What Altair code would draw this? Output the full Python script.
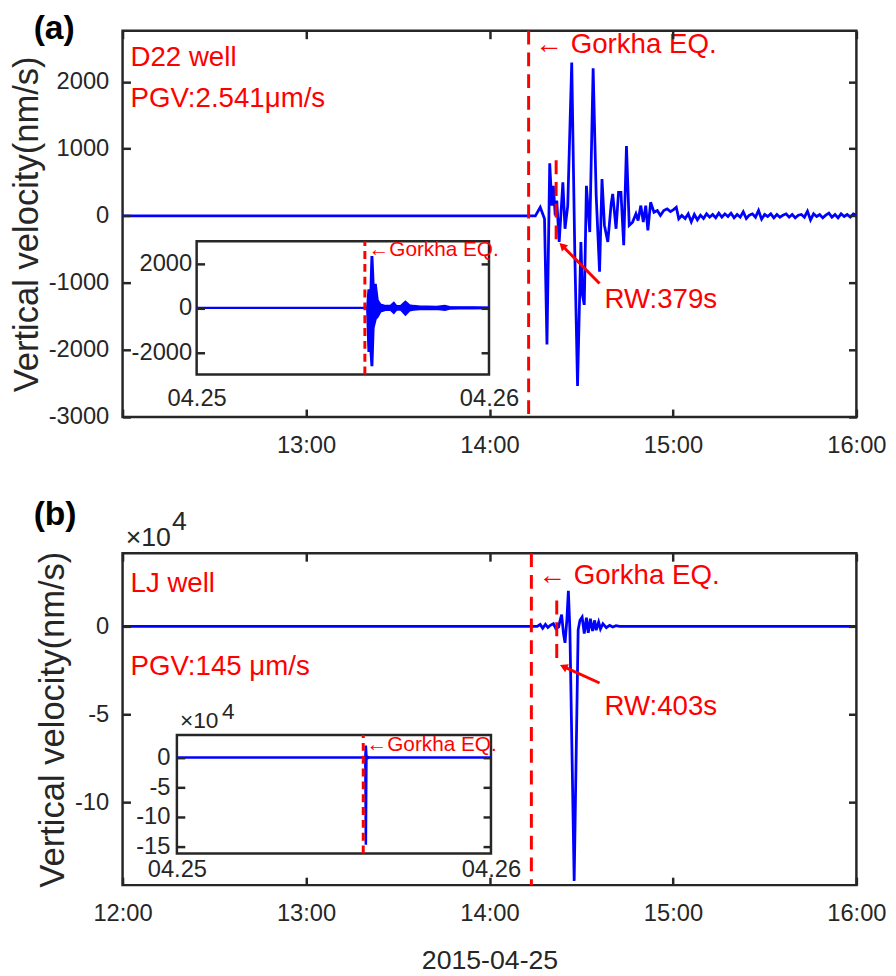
import altair as alt
import pandas as pd

FONT = "Liberation Sans"
BLUE = "#0000ff"
RED = "#ff0000"
DARK = "#262626"

# ---------------- panel (a): D22 well ----------------
# minutes after 2015-04-25 12:00, vertical velocity in nm/s
a_minutes = [0, 132.9, 135.0, 136.6, 138.0, 138.8, 139.7, 140.4, 140.9, 141.5,
             142.0, 142.8, 143.4, 144.0, 144.7, 145.6, 146.9, 147.9, 148.8, 149.9,
             150.4, 151.0, 151.7, 152.8, 153.9, 154.9, 156.0, 156.8, 157.6, 158.7,
             159.8, 160.3, 161.4, 162.2, 163.0, 163.9, 164.8, 165.7, 166.8, 167.9,
             168.6, 169.5, 170.3, 171.1, 171.8, 172.7, 173.8, 174.9, 175.9, 177.0,
             178.1, 179.2, 180.2, 181.1, 181.9, 182.9,
             184, 185, 186, 187, 188, 189, 190, 191, 192, 193, 194, 195, 196, 197,
             198, 199, 200, 201, 202, 203, 204, 205, 206, 207, 208, 209, 210, 211,
             212, 213, 214, 215, 216, 217, 218, 219, 220, 221, 222, 223, 224, 225,
             226, 227, 228, 229, 230, 231, 232, 233, 234, 235, 236, 237, 238, 239, 240]
a_values = [0, 0, 0, 128, -44, -1920, 785, 153, 449, 5,
            227, -390, 54, 499, -193, 153, 2286, -538, -2538, -390,
            -1180, -1328, 449, -242, 2202, 301, -834, 548, -143, -390,
            178, 326, -193, 350, 350, -439, 1042, -143, -94, 30,
            -69, 153, -94, 153, -217, 202, 54, 79, 5, 79,
            104, 64, 94, 128, -44, 5,
            -40, 30, -90, 20, -60, 10, -40, 30, -20, 20, -30, 40, -20, 30,
            -10, 40, -30, 20, -20, 60, -40, 10, 30, -20, 80, -50, 20, -10,
            30, -30, 20, -20, 10, 30, -20, 20, -30, 10, 20, -20, 70, -60,
            30, -10, 20, -30, 10, 40, -20, 20, -30, 30, -10, 20, -20, 30, 10]
a_eq_minute = 132.8
a_rw_minute = 141.8
a_rw_span = [828, -349]
a_arrow_minutes = [156.0, 143.8]
a_arrow_values = [-1010, -445]
a_text_minutes = [2.6, 2.6, 135.0, 157.6]
a_text_values = [2353, 1735, 2544, -1250]
a_texts = ["D22 well", "PGV:2.541\u03bcm/s", "\u2190 Gorkha EQ.", "RW:379s"]

# inset (a): hours of 2015-04-25, envelope in nm/s
a_in_hours = [13.97, 14.08, 14.25, 14.33, 14.45, 14.55, 14.73, 14.89, 15.11, 15.51,
              15.92, 16.19, 16.41, 16.73, 17.14, 17.49, 17.81, 18.35, 18.89, 19.70,
              20.38, 20.78, 21.59, 22.68, 23.97]
a_in_upper = [0, 800, 800, 2300, 2300, 1050, 1050, 350, 160, 100,
              110, 250, 100, 90, 300, 130, 100, 70, 70, 60,
              110, 50, 40, 40, 30]
a_in_lower = [0, -1950, -1950, -2590, -2590, -900, -500, -400, -180, -110,
              -110, -250, -100, -90, -330, -130, -100, -70, -70, -60,
              -110, -50, -40, -40, -30]
a_in_eq_hour = 13.81
a_in_text_hour = 14.11
a_in_text_value = 2578

# ---------------- panel (b): LJ well ----------------
# minutes after 12:00, vertical velocity in 10^4 nm/s
b_minutes = [0, 133.9, 135.0, 135.6, 136.6, 137.4, 138.3, 139.1, 139.9, 140.9,
             141.7, 142.6, 143.1, 143.6, 144.2, 144.7, 145.3, 145.8, 146.3, 147.7,
             149.0, 149.6, 150.3, 151.0, 151.7, 152.3, 153.0, 153.7, 154.4, 154.9,
             155.7, 156.3, 157.1, 158.2, 159.3, 160.3, 161.4, 162.5, 240]
b_values = [0, 0, 0, 0, 0.11, -0.11, 0.11, -0.07, 0.06, 0.15,
            -0.13, -0.04, 0.34, 0.67, -0.41, -0.94, 0.34, 2.02, -0.2, -14.46,
            -0.2, 0.34, 0.52, -0.41, 0.49, -0.37, 0.43, -0.26, 0.34, -0.22,
            0.24, -0.15, 0.15, -0.07, 0.06, -0.04, 0.04, 0, 0]
b_eq_minute = 133.7
b_rw_minute = 142.0
b_rw_span = [1.46, -2.02]
b_arrow_minutes = [156.0, 144.2]
b_arrow_values = [-3.22, -2.29]
b_text_minutes = [2.6, 2.6, 136.0, 157.6]
b_text_values = [2.42, -2.30, 2.87, -4.6]
b_texts = ["LJ well", "PGV:145 \u03bcm/s", "\u2190 Gorkha EQ.", "RW:403s"]
# exponent label "x10" with raised "4"
b_exp_minutes = [1.0, 16.2]
b_exp_values = [5.0, 5.9]
b_exp_texts = ["\u00d710", "4"]

b_in_hours = [14.36, 14.40, 14.48, 14.52, 14.70]
b_in_upper = [0, 1.9, 1.9, 0.3, 0]
b_in_lower = [0, -14.6, -14.6, -0.3, 0]
b_in_eq_hour = 14.24
b_in_text_hour = 14.49
b_in_text_value = 2.17
b_in_exp_hours = [0.23, 3.45]
b_in_exp_values = [6.17, 7.6]

T0 = pd.Timestamp("2015-04-25 12:00")
D0 = pd.Timestamp("2015-04-25 00:00")


def at(m):
    return T0 + pd.Timedelta(minutes=m)


def ath(h):
    return D0 + pd.Timedelta(hours=h)


def dt(h, day=25):
    return alt.DateTime(year=2015, month=4, date=day, hours=h)


X_MAIN = alt.Scale(domain=[dt(12), dt(16)])


def main_x_axis(hours, title):
    kw = dict(values=[dt(h) for h in hours], format="%H:%M", labelFontSize=24,
              labelPadding=17, labelFlush=False, ticks=False, domain=False,
              grid=False, labelColor=DARK)
    if title:
        kw.update(title=title, titleFontSize=27, titleFontWeight="normal",
                  titlePadding=22, titleColor=DARK)
    else:
        kw.update(title=None)
    return alt.Axis(**kw)


def main_y_axis(values):
    return alt.Axis(values=values, labelExpr="'' + datum.value",
                    title="Vertical velocity(nm/s)", titleFontSize=35,
                    titleFontWeight="normal", titlePadding=4, titleColor=DARK,
                    labelFontSize=24, labelPadding=14, labelColor=DARK,
                    ticks=False, domain=False, grid=False)


def tick_axis(orient, offset, values):
    return alt.Axis(orient=orient, offset=offset, values=values, labels=False,
                    domain=False, grid=False, ticks=True, tickSize=8,
                    tickWidth=2.5, tickColor=DARK, title=None, zindex=2)


def inset_x_axis(offset, pad):
    return alt.Axis(orient="bottom", offset=offset, values=[dt(0), dt(0, 26)],
                    format="%m.%d", labelFontSize=24, labelPadding=pad,
                    labelFlush=False, labelColor=DARK, ticks=False,
                    domain=False, grid=False, title=None)


def inset_y_axis(values, offset, pad):
    return alt.Axis(orient="left", offset=offset, values=values,
                    labelExpr="'' + datum.value", labelFontSize=24,
                    labelPadding=pad, labelColor=DARK, ticks=False,
                    domain=False, grid=False, title=None)


def main_layer(minutes, values, ydom, yvals, xhours, xtitle, eq_min, rw_min,
               rw_span, arrow_min, arrow_val, arrow_angle, t_min, t_val, texts,
               extra=None):
    wave = pd.DataFrame({"t": [at(m) for m in minutes], "v": values})
    line = alt.Chart(wave).mark_line(color=BLUE, strokeWidth=2.8).encode(
        x=alt.X("t:T", scale=X_MAIN, axis=main_x_axis(xhours, xtitle)),
        y=alt.Y("v:Q", scale=alt.Scale(domain=ydom, nice=False, zero=False),
                axis=main_y_axis(yvals)))
    eq = alt.Chart(pd.DataFrame({"t": [at(eq_min)]})).mark_rule(
        color=RED, strokeWidth=3, strokeDash=[14, 8]).encode(x="t:T")
    rw = alt.Chart(pd.DataFrame({"t": [at(rw_min)], "v": [rw_span[0]],
                                 "v2": [rw_span[1]]})).mark_rule(
        color=RED, strokeWidth=3, strokeDash=[14, 8]).encode(
        x="t:T", y="v:Q", y2="v2")
    arrow = alt.Chart(pd.DataFrame({
        "t": [at(arrow_min[0])], "v": [arrow_val[0]],
        "t2": [at(arrow_min[1])], "v2": [arrow_val[1]]})).mark_rule(
        color=RED, strokeWidth=3).encode(x="t:T", y="v:Q", x2="t2", y2="v2")
    head = alt.Chart(pd.DataFrame({"t": [at(arrow_min[1])], "v": [arrow_val[1]]})).mark_point(
        shape="triangle-left", filled=True, color=RED, opacity=1, size=80,
        angle=arrow_angle).encode(x="t:T", y="v:Q")
    txt = alt.Chart(pd.DataFrame({"t": [at(m) for m in t_min], "v": t_val,
                                  "s": texts})).mark_text(
        align="left", baseline="middle", fontSize=28, color=RED).encode(
        x="t:T", y="v:Q", text="s:N")
    layers = [line, eq, rw, arrow, head, txt]
    if extra is not None:
        layers.append(extra)
    return alt.layer(*layers)


def main_ticks(W, H, ydom, yvals, xhours):
    df = pd.DataFrame({"t": [at(0), at(240)], "v": ydom})
    ys = alt.Scale(domain=ydom, nice=False, zero=False)
    xv = [dt(h) for h in xhours]
    t1 = alt.Chart(df).mark_point(opacity=0).encode(
        x=alt.X("t:T", scale=X_MAIN, axis=tick_axis("top", -H, xv)),
        y=alt.Y("v:Q", scale=ys, axis=tick_axis("right", -W, yvals)))
    t2 = alt.Chart(df).mark_point(opacity=0).encode(
        x=alt.X("t:T", scale=X_MAIN, axis=tick_axis("bottom", -H, xv)),
        y=alt.Y("v:Q", scale=ys, axis=tick_axis("left", -W, yvals)))
    return [t1, t2]


def inset_layer(xrange, ydom, yrange, yvals, xoff, xpad, yoff, ypad, hours,
                upper, lower, eq_hour, text_hour, text_value, extra=None):
    xs = alt.Scale(domain=[dt(0), dt(0, 26)], range=xrange)
    ys = alt.Scale(domain=ydom, range=yrange, nice=False, zero=False)
    box = alt.Chart(pd.DataFrame({"h": [ath(0)], "h2": [ath(24)], "w": [ydom[0]],
                                  "w2": [ydom[1]]})).mark_rect(
        fill="white", stroke=DARK, strokeWidth=2.5).encode(
        x=alt.X("h:T", scale=xs, axis=inset_x_axis(xoff, xpad)), x2="h2",
        y=alt.Y("w:Q", scale=ys, axis=inset_y_axis(yvals, yoff, ypad)), y2="w2")
    zero = alt.Chart(pd.DataFrame({"h": [ath(0), ath(24)], "w": [0, 0]})).mark_line(
        color=BLUE, strokeWidth=2.4).encode(x="h:T", y="w:Q")
    env = alt.Chart(pd.DataFrame({"h": [ath(x) for x in hours], "w": upper,
                                  "w2": lower})).mark_area(
        color=BLUE, stroke=BLUE, strokeWidth=1.5, opacity=1).encode(
        x="h:T", y="w:Q", y2="w2")
    eq = alt.Chart(pd.DataFrame({"h": [ath(eq_hour)], "w": [ydom[0]],
                                 "w2": [ydom[1]]})).mark_rule(
        color=RED, strokeWidth=3, strokeDash=[8, 5]).encode(x="h:T", y="w:Q", y2="w2")
    txt = alt.Chart(pd.DataFrame({"h": [ath(text_hour)], "w": [text_value],
                                  "s": ["\u2190Gorkha EQ."]})).mark_text(
        align="left", baseline="middle", fontSize=21, color=RED).encode(
        x="h:T", y="w:Q", text="s:N")
    layers = [box, zero, env, eq, txt]
    if extra is not None:
        layers.append(extra)
    return alt.layer(*layers)


def inset_ticks(W, xrange, ydom, yrange, yvals):
    xs = alt.Scale(domain=[dt(0), dt(0, 26)], range=xrange)
    ys = alt.Scale(domain=ydom, range=yrange, nice=False, zero=False)
    df = pd.DataFrame({"h": [ath(0), ath(24)], "w": ydom})
    t3 = alt.Chart(df).mark_point(opacity=0).encode(
        x=alt.X("h:T", scale=xs, axis=None),
        y=alt.Y("w:Q", scale=ys, axis=tick_axis("right", xrange[0] - W, yvals)))
    t4 = alt.Chart(df).mark_point(opacity=0).encode(
        x=alt.X("h:T", scale=xs, axis=None),
        y=alt.Y("w:Q", scale=ys, axis=tick_axis("left", -xrange[1], yvals)))
    return [t3, t4]


W = 743
HA = 391
HB = 336

# ---- panel (a)
a_ydom = [-3000, 2760]
a_yvals = [-3000, -2000, -1000, 0, 1000, 2000]
main_a = main_layer(a_minutes, a_values, a_ydom, a_yvals, [13, 14, 15, 16], None,
                    a_eq_minute, a_rw_minute, a_rw_span, a_arrow_minutes,
                    a_arrow_values, 44, a_text_minutes, a_text_values, a_texts)
a_in_xr, a_in_ydom, a_in_yr, a_in_yvals = [75, 371], [-3000, 3000], [348, 213], [-2000, 0, 2000]
inset_a = inset_layer(a_in_xr, a_in_ydom, a_in_yr, a_in_yvals,
                      -43, 12, -75, 5, a_in_hours, a_in_upper, a_in_lower,
                      a_in_eq_hour, a_in_text_hour, a_in_text_value)
panel_a = alt.layer(main_a, *main_ticks(W, HA, a_ydom, a_yvals, [12, 13, 14, 15, 16]),
                    inset_a, *inset_ticks(W, a_in_xr, a_in_ydom, a_in_yr, a_in_yvals)
                    ).resolve_scale(x="independent", y="independent").properties(
    width=W, height=HA,
    title=alt.TitleParams("(a)", anchor="start", frame="group", dx=-90, offset=-18,
                          fontSize=34, fontWeight="bold", color="black"))

# ---- panel (b)
b_ydom = [-14.7, 4.15]
b_yvals = [-10, -5, 0]
b_exp = alt.Chart(pd.DataFrame({"t": [at(m) for m in b_exp_minutes], "v": b_exp_values,
                                "s": b_exp_texts})).mark_text(
    align="left", baseline="middle", fontSize=27, color=DARK).encode(
    x="t:T", y="v:Q", text="s:N")
main_b = main_layer(b_minutes, b_values, b_ydom, b_yvals,
                    [12, 13, 14, 15, 16], "2015-04-25", b_eq_minute, b_rw_minute,
                    b_rw_span, b_arrow_minutes, b_arrow_values, 24,
                    b_text_minutes, b_text_values, b_texts, extra=b_exp)
b_in_xr, b_in_ydom, b_in_yr, b_in_yvals = [55, 373], [-16.2, 3.8], [304, 184], [-15, -10, -5, 0]
b_in_exp = alt.Chart(pd.DataFrame({"h": [ath(x) for x in b_in_exp_hours], "w": b_in_exp_values,
                                   "s": b_exp_texts})).mark_text(
    align="left", baseline="middle", fontSize=23, color=DARK).encode(
    x="h:T", y="w:Q", text="s:N")
inset_b = inset_layer(b_in_xr, b_in_ydom, b_in_yr, b_in_yvals,
                      -32, 4, -55, 7, b_in_hours, b_in_upper, b_in_lower,
                      b_in_eq_hour, b_in_text_hour, b_in_text_value, extra=b_in_exp)
panel_b = alt.layer(main_b, *main_ticks(W, HB, b_ydom, b_yvals, [12, 13, 14, 15, 16]),
                    inset_b, *inset_ticks(W, b_in_xr, b_in_ydom, b_in_yr, b_in_yvals)
                    ).resolve_scale(x="independent", y="independent").properties(
    width=W, height=HB,
    title=alt.TitleParams("(b)", anchor="start", frame="group", dx=-90, offset=-24,
                          fontSize=34, fontWeight="bold", color="black"))

chart = alt.vconcat(panel_a, panel_b, spacing=38).properties(
    padding={"left": 0, "top": -3, "right": 0, "bottom": 0}
).configure(font=FONT).configure_view(stroke=DARK, strokeWidth=2.5)

chart.save("out.html", embed_options={"renderer": "svg", "actions": False})
